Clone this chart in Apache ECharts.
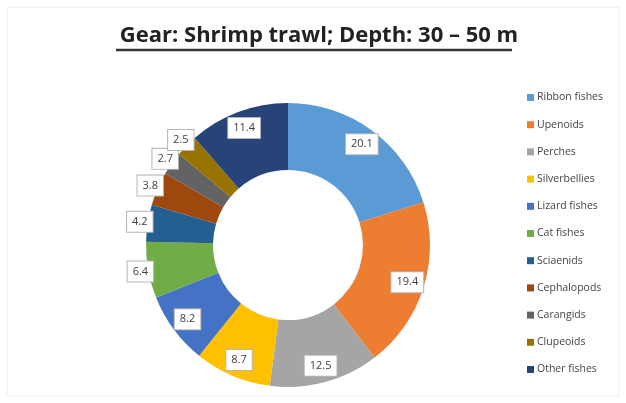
<!DOCTYPE html>
<html><head><meta charset="utf-8">
<script src="https://cdn.jsdelivr.net/npm/echarts@6/dist/echarts.min.js"></script>
<style>html,body{margin:0;padding:0;background:#fff}#c{width:626px;height:403px}</style>
</head><body><div id="c"></div>
<script>
const categories = ['Ribbon fishes','Upenoids','Perches','Silverbellies','Lizard fishes','Cat fishes','Sciaenids','Cephalopods','Carangids','Clupeoids','Other fishes'];
const values = [20.1,19.4,12.5,8.7,8.2,6.4,4.2,3.8,2.7,2.5,11.4];
const colors = ['#5B9BD5','#ED7D31','#A5A5A5','#FFC000','#4472C4','#70AD47','#255E91','#9E480E','#636363','#997300','#264478'];
const titleText = 'Gear: Shrimp trawl; Depth: 30 – 50 m';

const data = categories.map((n,i)=>({name:n,value:values[i],itemStyle:{color:colors[i]}}));
const labelStyle = {show:true,position:'inside',formatter:'{c}',backgroundColor:'#fff',
  borderColor:'#b5b5b5',borderWidth:1,padding:[5,5,4,5],
  fontFamily:'Open Sans',fontSize:11,color:'#404040'};
function labelData(big){
  return categories.map((n,i)=>({name:n,value:values[i],
    label:{show: big ? values[i] >= 8 : values[i] < 8}}));
}
function labelSeries(radius, big){
  return {type:'pie',center:[288,245],radius:radius,startAngle:90,clockwise:true,silent:true,
    data:labelData(big),itemStyle:{color:'rgba(0,0,0,0)'},labelLine:{show:false},
    label:labelStyle,labelLayout:{hideOverlap:false},emphasis:{disabled:true},tooltip:{show:false}};
}

const chart = echarts.init(document.getElementById('c'));
chart.setOption({
  animation:false,
  backgroundColor:'#fff',
  title:{text:titleText,left:314,top:20,textAlign:'center',
    textStyle:{fontFamily:'Open Sans',fontSize:22,fontWeight:'bold',color:'#222'}},
  graphic:[
    {type:'rect',shape:{x:7,y:7,width:612,height:389},style:{fill:'none',stroke:'#eeeeee',lineWidth:1},silent:true},
    {type:'line',shape:{x1:116,y1:50,x2:512,y2:50},style:{stroke:'#333',lineWidth:2.5},silent:true}
  ],
  legend:{orient:'vertical',left:522,top:87,itemWidth:7,itemHeight:7,itemGap:16.2,icon:'rect',
    data:categories,
    textStyle:{fontFamily:'Open Sans',fontSize:10.5,color:'#444',padding:[0,0,0,-2]}},
  series:[
    {type:'pie',center:[288,245],radius:[75,142],startAngle:90,clockwise:true,
      data:data,label:{show:false},labelLine:{show:false},
      itemStyle:{borderWidth:0}},
    labelSeries([100,144],true),
    labelSeries([130,164],false)
  ]
});
</script></body></html>
